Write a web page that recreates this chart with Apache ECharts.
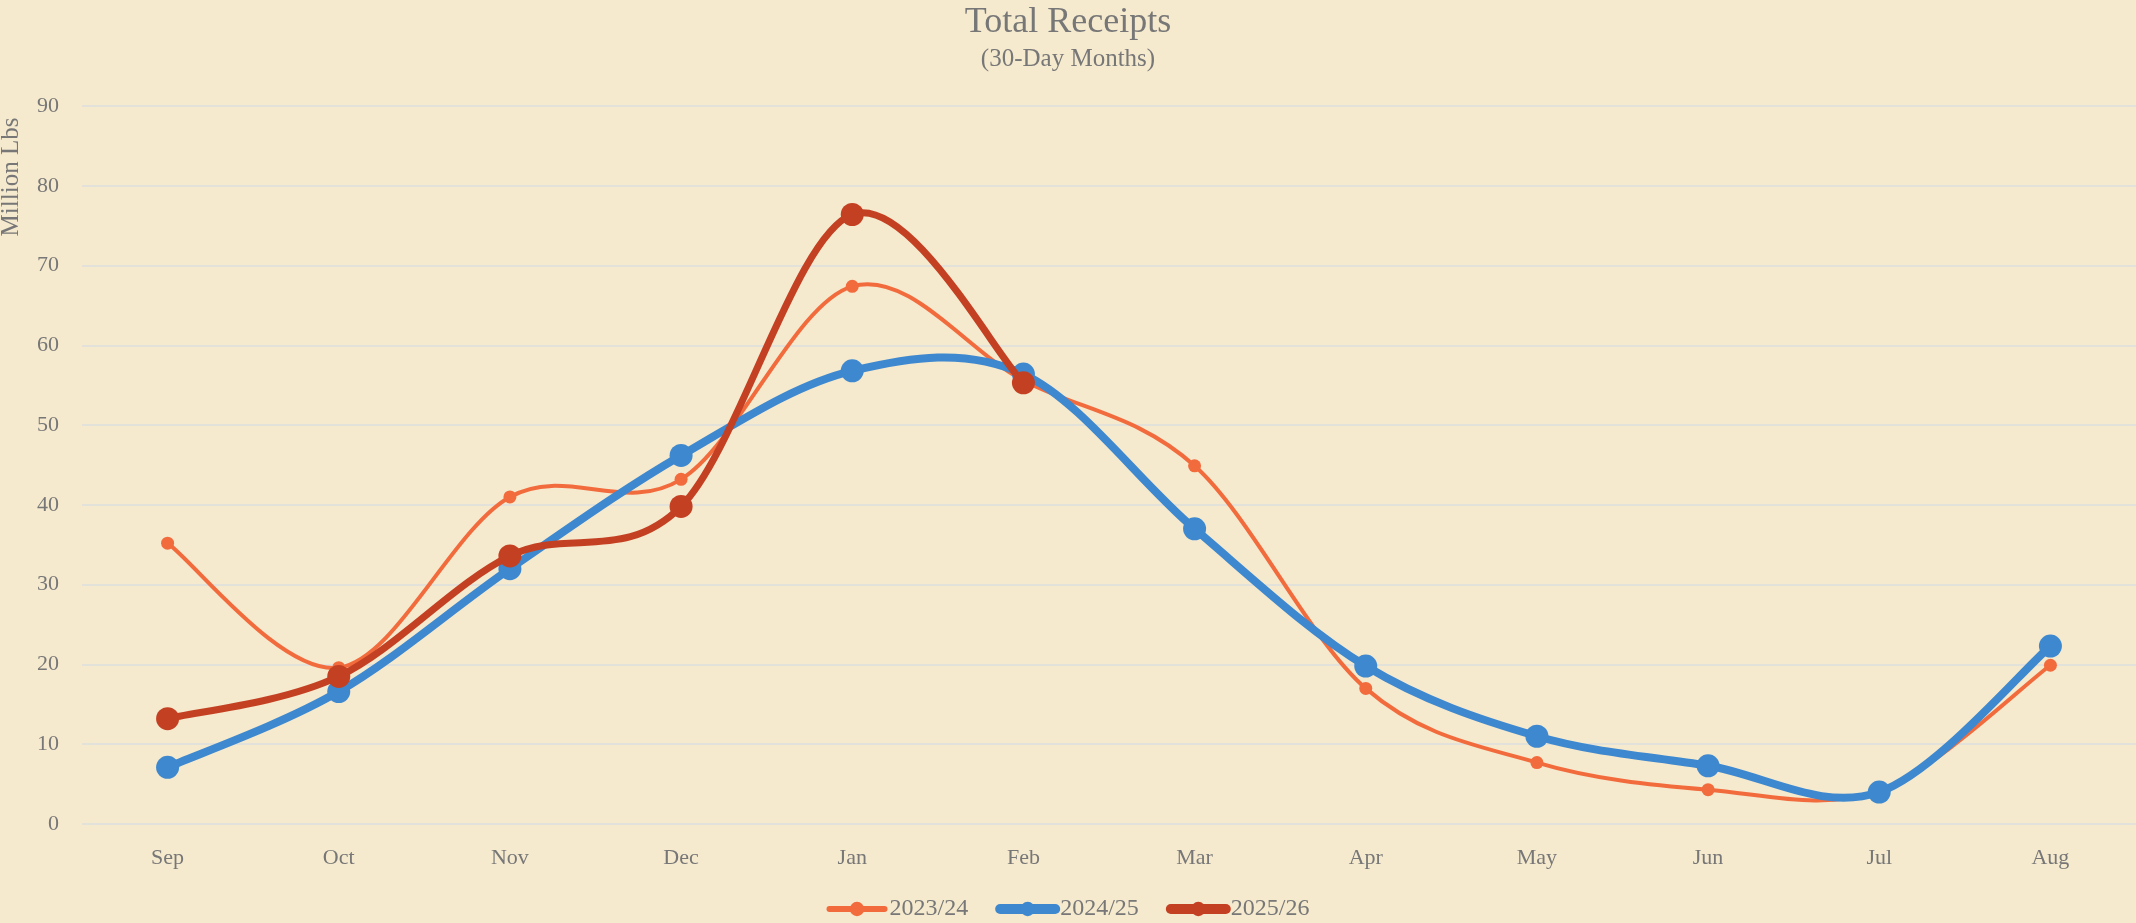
<!DOCTYPE html>
<html>
<head>
<meta charset="utf-8">
<script src="https://cdn.jsdelivr.net/npm/echarts@6/dist/echarts.min.js"></script>
<style>
  html, body { margin: 0; padding: 0; background: #f5e9ce; }
  #chart { width: 2136px; height: 923px; }
</style>
</head>
<body>
<div id="chart"></div>
<script>
// months of the marketing year
let months = ["Sep", "Oct", "Nov", "Dec", "Jan", "Feb", "Mar", "Apr", "May", "Jun", "Jul", "Aug"];
// million lbs
let s2324 = [35.2, 19.6, 41.0, 43.2, 67.4, 55.6, 44.9, 17.0, 7.7, 4.3, 4.2, 19.9];
let s2425 = [7.1, 16.6, 32.0, 46.2, 56.8, 56.4, 37.0, 19.8, 11.0, 7.3, 4.0, 22.3];
let s2526 = [13.2, 18.5, 33.6, 39.8, 76.4, 55.3, null, null, null, null, null, null];
let seriesNames = ["2023/24", "2024/25", "2025/26"];

let color = ["#f26b3d", "#3d88cf", "#c44022", "#777777", "#e2e1da"];
let font = "Liberation Serif";

// excel style smoothed curve (control points at 1/6 of neighbour spread)
function curvePath(values, api) {
  let pts = [];
  values.forEach(function(v, i) {
    if (v != null) pts.push(api.coord([i, v]));
  });
  let d = "M" + pts[0][0] + " " + pts[0][1];
  for (let i = 0; i < pts.length - 1; i++) {
    let p0 = pts[Math.max(i - 1, 0)];
    let p1 = pts[i];
    let p2 = pts[i + 1];
    let p3 = pts[Math.min(i + 2, pts.length - 1)];
    let c1x = p1[0] + (p2[0] - p0[0]) / 6;
    let c1y = p1[1] + (p2[1] - p0[1]) / 6;
    let c2x = p2[0] - (p3[0] - p1[0]) / 6;
    let c2y = p2[1] - (p3[1] - p1[1]) / 6;
    d += " C" + c1x + " " + c1y + " " + c2x + " " + c2y + " " + p2[0] + " " + p2[1];
  }
  return d;
}

function curveSeries(values, col, width, z) {
  return {
    type: "custom",
    name: "curve" + z,
    silent: true,
    z: z,
    data: [[0, 0]],
    renderItem: function(params, api) {
      return {
        type: "path",
        shape: { pathData: curvePath(values, api) },
        style: { fill: "none", stroke: col, lineWidth: width, lineJoin: "round", lineCap: "round" }
      };
    }
  };
}

function markSeries(name, values, col, size, z) {
  return {
    name: name,
    type: "line",
    data: values,
    z: z,
    symbol: "circle",
    symbolSize: size,
    itemStyle: { color: col },
    lineStyle: { opacity: 0 }
  };
}

let myChart = echarts.init(document.getElementById("chart"));

let option = {
  backgroundColor: "#f5e9ce",
  animation: false,
  title: {
    text: "Total Receipts",
    subtext: "(30-Day Months)",
    left: "center",
    top: 0,
    itemGap: 6,
    textStyle: { color: color[3], fontFamily: font, fontSize: 36, fontWeight: "normal" },
    subtextStyle: { color: color[3], fontFamily: font, fontSize: 25 }
  },
  graphic: [
    {
      type: "text",
      x: 11,
      y: 177,
      rotation: Math.PI / 2,
      style: {
        text: "Million Lbs",
        fill: color[3],
        font: "25px " + font,
        align: "center",
        verticalAlign: "middle"
      }
    }
  ],
  legend: {
    top: 892,
    left: "center",
    itemWidth: 55,
    itemHeight: 18,
    itemGap: 27,
    textStyle: { color: color[3], fontFamily: font, fontSize: 24 },
    data: [
      { name: seriesNames[0], lineStyle: { color: color[0], width: 6, opacity: 1, cap: "round" } },
      { name: seriesNames[1], lineStyle: { color: color[1], width: 10, opacity: 1, cap: "round" } },
      { name: seriesNames[2], lineStyle: { color: color[2], width: 10, opacity: 1, cap: "round" } }
    ]
  },
  grid: { left: 82, right: 0, top: 106, bottom: 99 },
  xAxis: {
    type: "category",
    data: months,
    boundaryGap: true,
    axisLine: { show: false },
    axisTick: { show: false },
    axisLabel: { color: color[3], fontFamily: font, fontSize: 22, margin: 23 }
  },
  yAxis: {
    type: "value",
    min: 0,
    max: 90,
    interval: 10,
    axisLine: { show: false },
    axisTick: { show: false },
    axisLabel: { color: color[3], fontFamily: font, fontSize: 22, margin: 23 },
    splitLine: { lineStyle: { color: color[4], width: 2 } }
  },
  series: [
    curveSeries(s2324, color[0], 4, 2),
    markSeries(seriesNames[0], s2324, color[0], 13, 3),
    curveSeries(s2425, color[1], 8, 4),
    markSeries(seriesNames[1], s2425, color[1], 23, 5),
    curveSeries(s2526, color[2], 7, 6),
    markSeries(seriesNames[2], s2526, color[2], 23, 7)
  ]
};

myChart.setOption(option);
</script>
</body>
</html>
